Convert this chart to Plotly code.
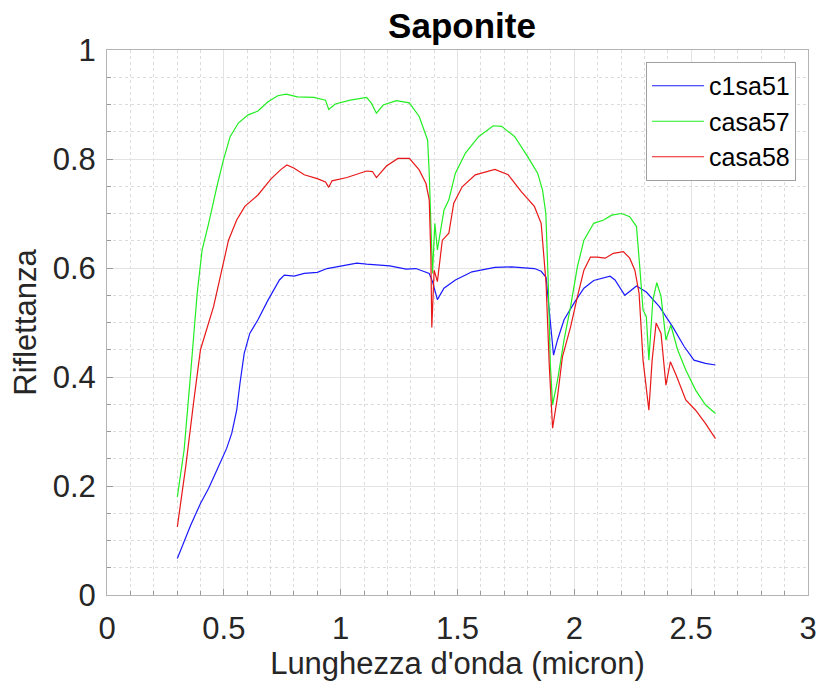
import plotly.graph_objects as go

# ---- data ----
c1sa51_x = [0.301, 0.358, 0.400, 0.435, 0.470, 0.512, 0.534, 0.555, 0.569, 0.587, 0.611, 0.646, 0.689,
            0.738, 0.759, 0.801, 0.844, 0.900, 0.942, 0.998, 1.069, 1.111, 1.210, 1.280, 1.322, 1.379,
            1.393, 1.414, 1.442, 1.491, 1.562, 1.660, 1.731, 1.829, 1.858, 1.879, 1.893, 1.911, 1.928,
            1.956, 1.998, 2.041, 2.083, 2.153, 2.174, 2.216, 2.266, 2.308, 2.364, 2.421, 2.470, 2.512,
            2.561, 2.604]
c1sa51_y = [0.067, 0.128, 0.168, 0.196, 0.229, 0.269, 0.297, 0.339, 0.388, 0.443, 0.480, 0.505, 0.541,
            0.578, 0.587, 0.585, 0.590, 0.592, 0.599, 0.604, 0.609, 0.607, 0.604, 0.598, 0.599, 0.590,
            0.575, 0.542, 0.563, 0.578, 0.593, 0.601, 0.602, 0.599, 0.594, 0.583, 0.523, 0.440, 0.468,
            0.505, 0.535, 0.563, 0.577, 0.585, 0.578, 0.550, 0.567, 0.556, 0.529, 0.492, 0.456, 0.431,
            0.425, 0.422]

casa57_x = [0.301, 0.330, 0.358, 0.386, 0.407, 0.435, 0.470, 0.498, 0.527, 0.562, 0.604, 0.646, 0.689,
            0.731, 0.766, 0.815, 0.886, 0.935, 0.949, 0.977, 1.041, 1.111, 1.132, 1.153, 1.182, 1.238,
            1.294, 1.336, 1.372, 1.379, 1.386, 1.393, 1.403, 1.414, 1.442, 1.463, 1.491, 1.534, 1.590,
            1.653, 1.689, 1.745, 1.801, 1.843, 1.864, 1.878, 1.888, 1.897, 1.907, 1.928, 1.956, 1.984,
            2.013, 2.041, 2.083, 2.125, 2.160, 2.202, 2.237, 2.266, 2.280, 2.294, 2.308, 2.319, 2.336,
            2.353, 2.371, 2.392, 2.413, 2.442, 2.477, 2.519, 2.561, 2.604]
casa57_y = [0.180, 0.266, 0.407, 0.554, 0.633, 0.682, 0.749, 0.798, 0.841, 0.866, 0.881, 0.888, 0.905,
            0.916, 0.919, 0.914, 0.913, 0.908, 0.891, 0.901, 0.908, 0.913, 0.902, 0.884, 0.899, 0.907,
            0.903, 0.878, 0.835, 0.774, 0.682, 0.590, 0.682, 0.633, 0.706, 0.725, 0.774, 0.811, 0.841,
            0.861, 0.860, 0.841, 0.804, 0.774, 0.743, 0.700, 0.578, 0.425, 0.349, 0.394, 0.468, 0.529,
            0.602, 0.651, 0.682, 0.688, 0.697, 0.700, 0.694, 0.676, 0.602, 0.523, 0.511, 0.431, 0.541,
            0.573, 0.548, 0.468, 0.495, 0.450, 0.413, 0.376, 0.349, 0.333]

casa58_x = [0.301, 0.337, 0.372, 0.400, 0.456, 0.491, 0.520, 0.555, 0.590, 0.646, 0.703, 0.745, 0.770,
            0.801, 0.844, 0.900, 0.935, 0.949, 0.963, 1.027, 1.111, 1.136, 1.153, 1.196, 1.245, 1.294,
            1.336, 1.365, 1.379, 1.386, 1.390, 1.400, 1.414, 1.435, 1.463, 1.484, 1.520, 1.576, 1.660,
            1.717, 1.773, 1.829, 1.858, 1.879, 1.893, 1.907, 1.928, 1.949, 1.984, 2.013, 2.041, 2.069,
            2.097, 2.132, 2.167, 2.210, 2.237, 2.259, 2.277, 2.294, 2.308, 2.319, 2.333, 2.350, 2.371,
            2.392, 2.411, 2.435, 2.477, 2.519, 2.561, 2.604]
casa58_y = [0.125, 0.236, 0.358, 0.450, 0.529, 0.596, 0.651, 0.688, 0.713, 0.734, 0.764, 0.781, 0.789,
            0.783, 0.771, 0.764, 0.758, 0.748, 0.760, 0.766, 0.778, 0.777, 0.766, 0.787, 0.801, 0.801,
            0.780, 0.755, 0.725, 0.621, 0.491, 0.596, 0.575, 0.651, 0.664, 0.719, 0.749, 0.771, 0.781,
            0.771, 0.740, 0.713, 0.682, 0.572, 0.419, 0.306, 0.364, 0.437, 0.492, 0.547, 0.596, 0.620,
            0.620, 0.618, 0.627, 0.630, 0.618, 0.596, 0.554, 0.431, 0.382, 0.339, 0.431, 0.499, 0.480,
            0.385, 0.428, 0.404, 0.358, 0.339, 0.315, 0.287]

series_names = ["c1sa51", "casa57", "casa58"]
series_x = [c1sa51_x, casa57_x, casa58_x]
series_y = [c1sa51_y, casa57_y, casa58_y]
colors = ["#1a1aff", "#22ee22", "#e81818"]

x_ticks = [0, 0.5, 1, 1.5, 2, 2.5, 3]
x_ticklabels = ["0", "0.5", "1", "1.5", "2", "2.5", "3"]
y_ticks = [0, 0.2, 0.4, 0.6, 0.8, 1]
y_ticklabels = ["0", "0.2", "0.4", "0.6", "0.8", "1"]

FONT = "Liberation Sans, Arial, Helvetica, sans-serif"

fig = go.Figure()
for name, xs, ys, c in zip(series_names, series_x, series_y, colors):
    fig.add_trace(go.Scatter(x=xs, y=ys, mode="lines", name=name,
                             line=dict(color=c, width=1.2)))

axis_common = dict(
    showline=True, linecolor="#b4b4b4", linewidth=1, mirror=True,
    showgrid=True, gridcolor="#e3e3e3", gridwidth=1,
    ticks="inside", ticklen=6, tickcolor="#9a9a9a",
    zeroline=False,
    tickfont=dict(family=FONT, size=31, color="#262626"),
)

fig.update_xaxes(
    range=[0, 3], tickmode="array", tickvals=x_ticks, ticktext=x_ticklabels,
    ticklabelstandoff=6,
    minor=dict(dtick=0.1, showgrid=True, gridcolor="#dcdcdc", griddash="dot",
               ticks="inside", ticklen=4, tickcolor="#9a9a9a"),
    title=dict(text="Lunghezza d'onda (micron)", font=dict(family=FONT, size=31, color="#262626"),
               standoff=4),
    **axis_common,
)
fig.update_yaxes(
    range=[0, 1], tickmode="array", tickvals=y_ticks, ticktext=y_ticklabels,
    ticklabelstandoff=4,
    minor=dict(dtick=0.05, showgrid=True, gridcolor="#dcdcdc", griddash="dot",
               ticks="inside", ticklen=4, tickcolor="#9a9a9a"),
    title=dict(text="Riflettanza", font=dict(family=FONT, size=31, color="#262626"), standoff=6),
    **axis_common,
)

fig.update_layout(
    width=829, height=685,
    margin=dict(l=107, r=12, t=50, b=90),
    paper_bgcolor="white", plot_bgcolor="white",
    title=dict(text="<b>Saponite</b>", x=(107 + 817) / 2 / 829, xanchor="center",
               y=1 - 26 / 685, yanchor="middle",
               font=dict(family=FONT, size=35, color="black")),
    legend=dict(x=0.983, xanchor="right", y=0.978, yanchor="top",
                bgcolor="white", bordercolor="#a0a0a0", borderwidth=1,
                font=dict(family=FONT, size=25, color="black"),
                itemwidth=52, tracegroupgap=0),
    showlegend=True,
)

fig.write_html("out.html")
